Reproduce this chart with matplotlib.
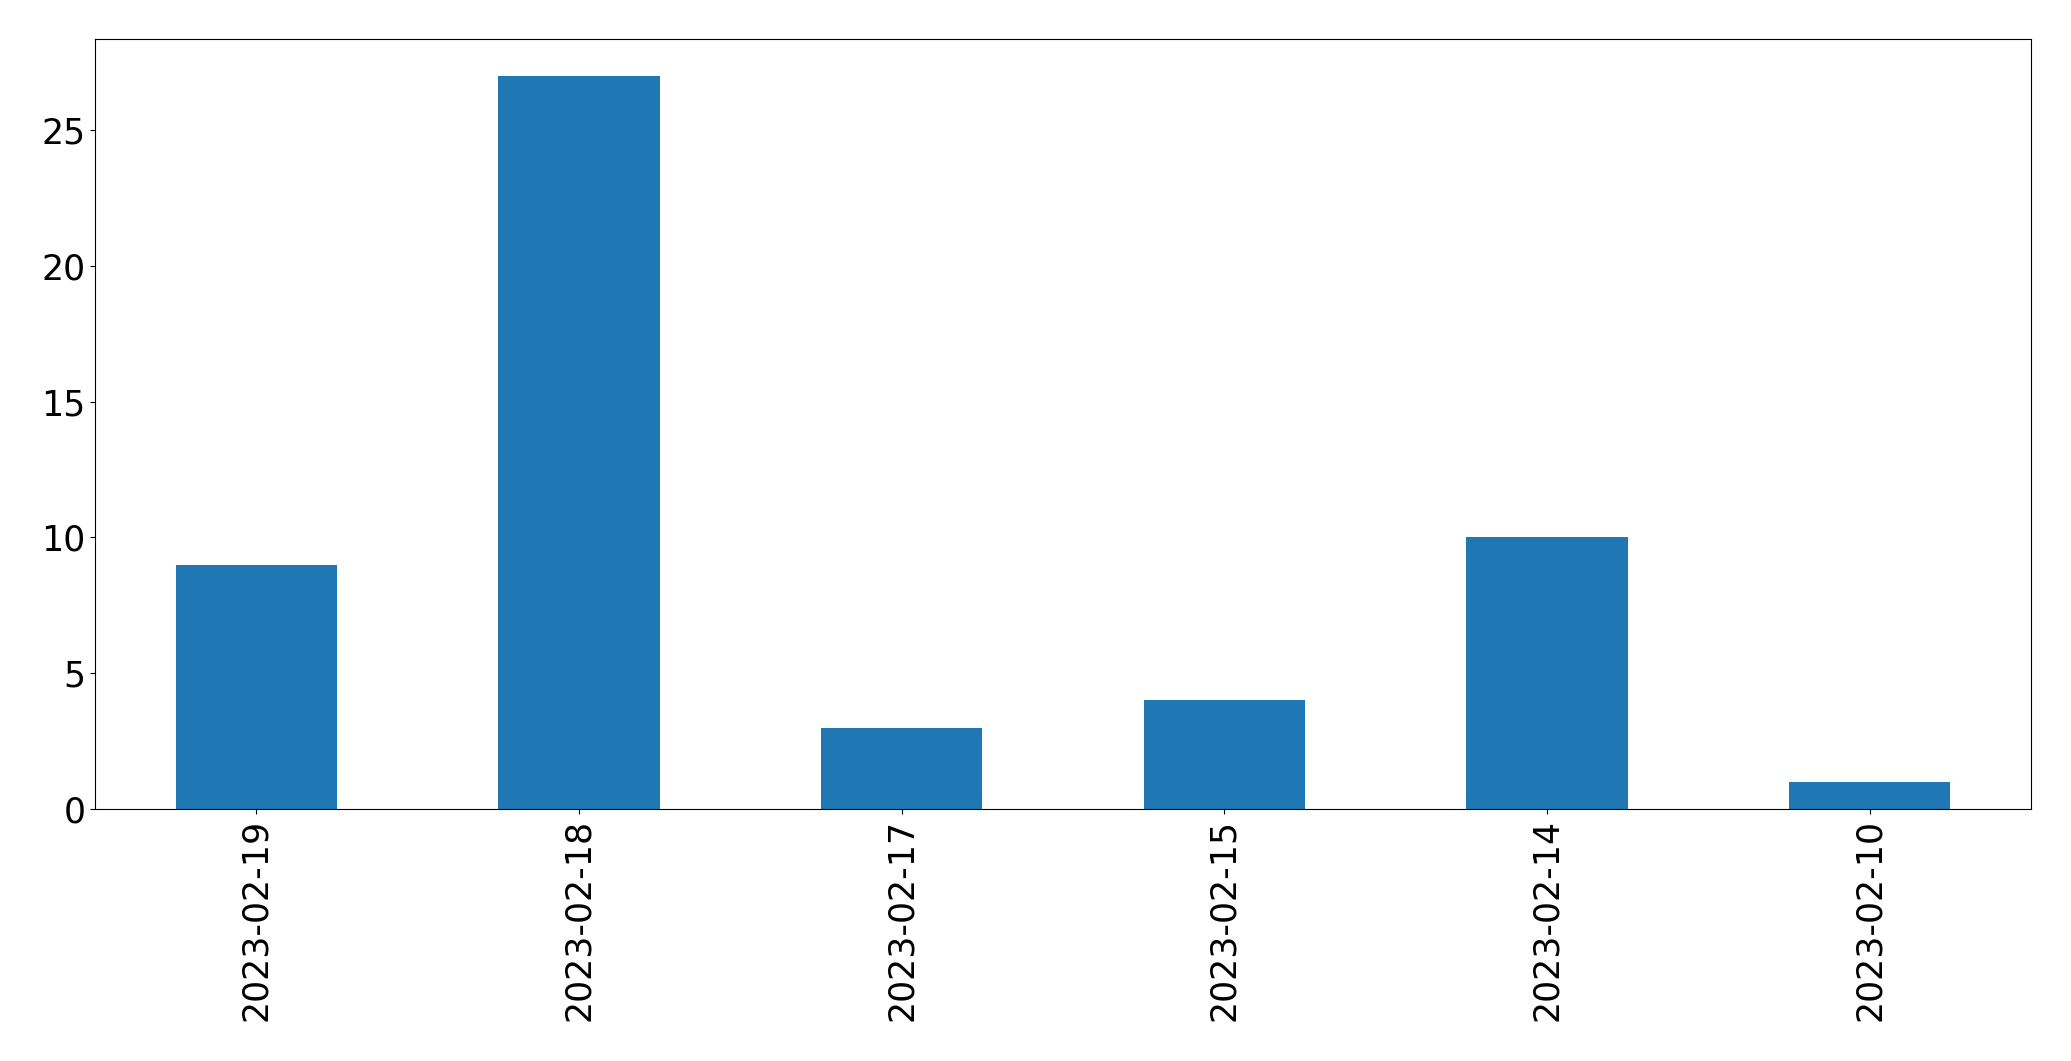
import matplotlib
matplotlib.use("Agg")
import matplotlib.pyplot as plt

dates = ["2023-02-19", "2023-02-18", "2023-02-17", "2023-02-15", "2023-02-14", "2023-02-10"]
counts = [9, 27, 3, 4, 10, 1]

fig = plt.figure(figsize=(20.71, 10.61), dpi=100)
ax = fig.add_axes([95/2071, 1 - 809/1061, (2031-95)/2071, (809-39)/1061])
x = list(range(len(dates)))
ax.bar(x, counts, width=0.5, color="#1f77b4")
ax.set_xlim(-0.5, len(dates) - 0.5)
ax.set_xticks(x)
ax.set_xticklabels(dates, rotation=90)
ax.tick_params(labelsize=25)
fig.savefig("out.png", dpi=100)
